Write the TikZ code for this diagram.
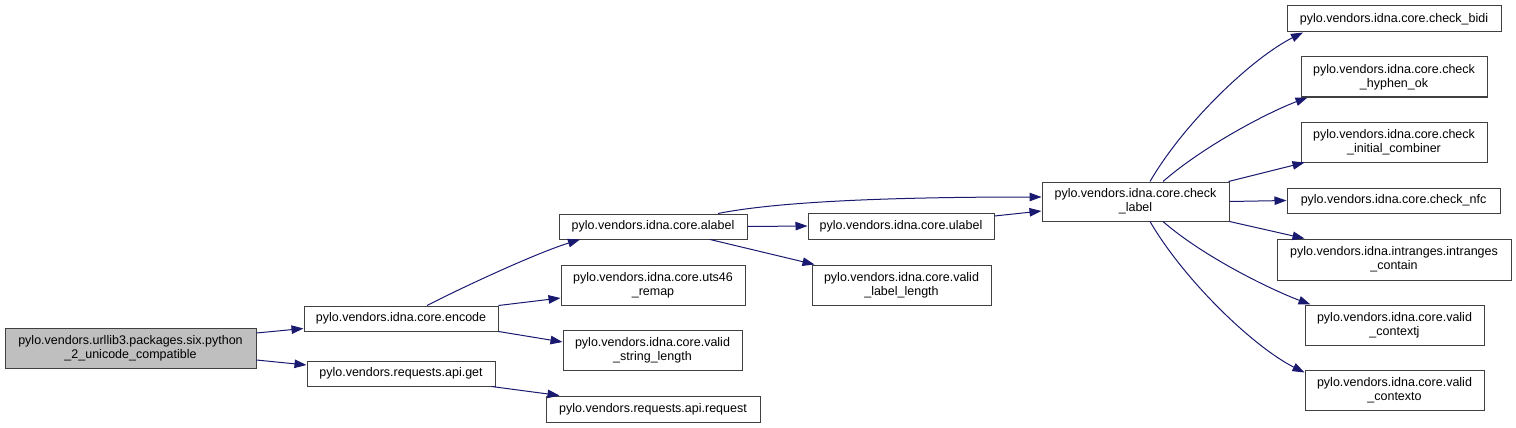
\documentclass[tikz,border=0pt]{standalone}
\usepackage{fontspec}
\setmainfont{Liberation Sans}
\usetikzlibrary{arrows.meta}
\definecolor{edgeblue}{HTML}{191970}
\definecolor{rootgray}{HTML}{BFBFBF}

\begin{document}
\begin{tikzpicture}[x=1pt,y=-1pt,
  func/.style={draw=black!75,line width=1pt,fill=white,inner sep=0pt,align=center,
    font=\fontsize{12.5}{14}\selectfont},
  call/.style={draw=edgeblue,line width=1pt,-{Triangle[length=12pt,width=8.5pt]}}]
\useasboundingbox (0,0) rectangle (1516,428);

% caller
\node[func,fill=rootgray,minimum width=251pt,minimum height=40pt](root) at (130.5,348)
  {pylo.vendors.urllib3.packages.six.python\\\_2\_unicode\_compatible};

% first level
\node[func,minimum width=194pt,minimum height=25pt](encode) at (401,318.5){pylo.vendors.idna.core.encode};
\node[func,minimum width=188pt,minimum height=25pt](get) at (401,373.5){pylo.vendors.requests.api.get};

% second level
\node[func,minimum width=188pt,minimum height=25pt](alabel) at (653,226.5){pylo.vendors.idna.core.alabel};
\node[func,minimum width=184pt,minimum height=40pt](uts) at (653,285){pylo.vendors.idna.core.uts46\\\_remap};
\node[func,minimum width=179pt,minimum height=40pt](vsl) at (652.5,350){pylo.vendors.idna.core.valid\\\_string\_length};
\node[func,minimum width=214pt,minimum height=26pt](request) at (653,409){pylo.vendors.requests.api.request};

% third level
\node[func,minimum width=186pt,minimum height=26pt](ulabel) at (901,226){pylo.vendors.idna.core.ulabel};
\node[func,minimum width=179pt,minimum height=40pt](vll) at (901.5,285){pylo.vendors.idna.core.valid\\\_label\_length};

\node[func,minimum width=187pt,minimum height=39pt](checklabel) at (1135.5,201.5){pylo.vendors.idna.core.check\\\_label};

% callees of check_label
\node[func,minimum width=214pt,minimum height=26pt](bidi) at (1394,19){pylo.vendors.idna.core.check\_bidi};
\node[func,minimum width=186pt,minimum height=40pt](hyphen) at (1394,77){pylo.vendors.idna.core.check\\\_hyphen\_ok};
\node[func,minimum width=186pt,minimum height=40pt](combiner) at (1394,142){pylo.vendors.idna.core.check\\\_initial\_combiner};
\node[func,minimum width=213pt,minimum height=25pt](nfc) at (1393.5,200.5){pylo.vendors.idna.core.check\_nfc};
\node[func,minimum width=234pt,minimum height=41pt](intranges) at (1394,259.5){pylo.vendors.idna.intranges.intranges\\\_contain};
\node[func,minimum width=179pt,minimum height=40pt](contextj) at (1394.5,325){pylo.vendors.idna.core.valid\\\_contextj};
\node[func,minimum width=179pt,minimum height=40pt](contexto) at (1394.5,390){pylo.vendors.idna.core.valid\\\_contexto};

% calls
\draw[call] ([yshift=15pt]root.east) -- ([yshift=-10pt]encode.west);
\draw[call] ([yshift=-12pt]root.east) -- ([yshift=8.5pt]get.west);
\draw[call] ([xshift=26pt]encode.north) .. controls +(33,-17) and +(-45,14) .. ([xshift=-73pt]alabel.south);
\draw[call] (encode.north east) -- ([yshift=-13pt]uts.west);
\draw[call] (encode.south east) -- ([yshift=8pt]vsl.west);
\draw[call] ([xshift=-4pt]get.south east) -- ([xshift=14pt]request.north west);
\draw[call] (alabel.east) -- (ulabel.west);
\draw[call] ([xshift=57pt]alabel.south) -- ([xshift=3pt]vll.north west);
\draw[call] ([xshift=65pt]alabel.north) .. controls +(60,-12) and +(-150,0) .. ([yshift=4.5pt]checklabel.west);
\draw[call] ([yshift=10pt]ulabel.east) -- ([yshift=-9.5pt]checklabel.west);
\draw[call] ([xshift=14.5pt]checklabel.north) .. controls +(35,-60) and +(-50,25) .. ([xshift=-91pt]bidi.south);
\draw[call] ([xshift=27.5pt]checklabel.north) .. controls +(40,-35) and +(-40,15) .. ([xshift=7pt]hyphen.south west);
\draw[call] ([xshift=-1pt]checklabel.north east) -- ([xshift=4pt]combiner.south west);
\draw[call] (checklabel.east) -- (nfc.west);
\draw[call] (checklabel.south east) -- ([xshift=28pt]intranges.north west);
\draw[call] ([xshift=27.5pt]checklabel.south) .. controls +(40,35) and +(-40,-15) .. ([xshift=6pt]contextj.north west);
\draw[call] ([xshift=14.5pt]checklabel.south) .. controls +(35,60) and +(-50,-25) .. ([yshift=-3pt]contexto.north west);
\end{tikzpicture}
\end{document}
